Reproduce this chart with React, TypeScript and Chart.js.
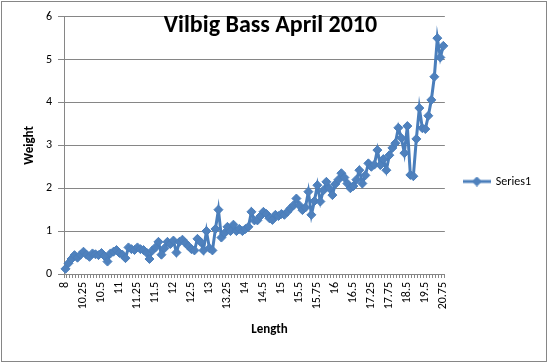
import React, { useEffect, useRef } from "react";
import { Chart, registerables } from "chart.js";

Chart.register(...registerables);

const TITLE = "Vilbig Bass April 2010";
const X_TITLE = "Length";
const Y_TITLE = "Weight";
const SERIES = "Series1";

// category labels (fish length, one per fish, sorted)
const lengths = [
  8, 8.75, 9.25, 9.75, 10, 10.25,
  10.25, 10.25, 10.25, 10.5, 10.5, 10.5,
  10.5, 10.75, 10.75, 10.75, 11, 11,
  11, 11, 11, 11.25, 11.25, 11.25,
  11.25, 11.25, 11.25, 11.5, 11.5, 11.5,
  11.5, 11.5, 11.75, 11.75, 11.75, 12,
  12, 12, 12.25, 12.25, 12.5, 12.5,
  12.5, 12.5, 12.75, 12.75, 12.75, 13,
  13, 13, 13, 13, 13.25, 13.25,
  13.25, 13.5, 13.5, 13.75, 13.75, 14,
  14, 14, 14.25, 14.25, 14.5, 14.5,
  14.5, 14.5, 14.75, 14.75, 15, 15,
  15, 15, 15.25, 15.25, 15.5, 15.5,
  15.5, 15.5, 15.5, 15.75, 15.75, 15.75,
  15.75, 15.75, 15.75, 16, 16, 16,
  16, 16.25, 16.25, 16.25, 16.5, 16.5,
  16.5, 16.75, 16.75, 17, 17, 17.25,
  17.25, 17.25, 17.5, 17.5, 17.5, 17.75,
  17.75, 18, 18, 18.25, 18.25, 18.5,
  18.5, 18.75, 19, 19, 19.25, 19.5,
  19.5, 19.75, 20, 20.25, 20.5, 20.75,
  20.75,
];

// weights
const weights = [
  0.12, 0.25, 0.35, 0.44, 0.38, 0.45,
  0.52, 0.45, 0.40, 0.48, 0.46, 0.44,
  0.49, 0.42, 0.29, 0.48, 0.52, 0.56,
  0.49, 0.45, 0.37, 0.62, 0.58, 0.56,
  0.62, 0.58, 0.56, 0.50, 0.35, 0.55,
  0.62, 0.75, 0.45, 0.60, 0.75, 0.70,
  0.78, 0.50, 0.75, 0.80, 0.72, 0.65,
  0.58, 0.55, 0.82, 0.75, 0.55, 1.00,
  0.60, 0.55, 1.05, 1.50, 0.85, 0.95,
  1.10, 1.00, 1.15, 1.00, 1.05, 1.00,
  1.05, 1.10, 1.45, 1.25, 1.25, 1.35,
  1.45, 1.40, 1.30, 1.26, 1.38, 1.35,
  1.40, 1.38, 1.45, 1.53, 1.60, 1.76,
  1.60, 1.49, 1.55, 1.92, 1.38, 1.70,
  2.07, 1.69, 1.95, 2.15, 2.00, 1.84,
  2.10, 2.20, 2.35, 2.25, 2.11, 2.00,
  2.05, 2.20, 2.42, 2.11, 2.30, 2.58,
  2.50, 2.55, 2.89, 2.54, 2.68, 2.42,
  2.77, 2.94, 3.05, 3.41, 3.17, 2.82,
  3.45, 2.31, 2.28, 3.15, 3.87, 3.40,
  3.38, 3.69, 4.06, 4.60, 5.50, 5.05,
  5.32,
];

const Y_MIN = 0;
const Y_MAX = 6;
const Y_STEP = 1;
const LABEL_EVERY = 6;

const FONT = "Carlito, Lato, 'Liberation Sans', sans-serif";
const LINE = "#4A7EBB";
const MARK = "#4F81BD";
const GRID = "#868686";
const X_TITLE_SHIFT = 15;

export default function App() {
  const ref = useRef<HTMLCanvasElement>(null);

  useEffect(() => {
    document.body.style.margin = "0";
    const img = document.createElement("canvas");
    img.width = 28;
    img.height = 10;
    const g = img.getContext("2d")!;
    g.strokeStyle = LINE;
    g.lineWidth = 3;
    g.beginPath();
    g.moveTo(0, 5);
    g.lineTo(28, 5);
    g.stroke();
    g.fillStyle = MARK;
    g.lineWidth = 1;
    g.beginPath();
    g.moveTo(14, 0.5);
    g.lineTo(18.5, 5);
    g.lineTo(14, 9.5);
    g.lineTo(9.5, 5);
    g.closePath();
    g.fill();
    g.stroke();

    const chart = new Chart(ref.current!, {
      type: "line",
      data: {
        labels: lengths.map(String),
        datasets: [
          {
            label: SERIES,
            data: weights,
            borderColor: LINE,
            borderWidth: 3,
            pointStyle: "rectRot",
            pointRadius: 4.5,
            pointBackgroundColor: MARK,
            pointBorderColor: LINE,
            pointBorderWidth: 1,
            tension: 0,
          },
        ],
      },
      options: {
        animation: false,
        responsive: false,
        layout: { padding: { left: 0, right: 7, top: 0, bottom: 0 } },
        plugins: {
          title: {
            display: true,
            text: TITLE,
            color: "#000",
            font: { family: FONT, size: 24, weight: "bold", lineHeight: 1.2 },
            padding: { top: 11.6, bottom: -23.7 },
          },
          legend: {
            position: "right",
            labels: {
              usePointStyle: true,
              pointStyleWidth: 26,
              padding: 19,
              color: "#000",
              font: { family: FONT, size: 12 },
              generateLabels: () => [
                {
                  text: SERIES,
                  pointStyle: img as any,
                  fillStyle: MARK,
                  strokeStyle: LINE,
                  lineWidth: 0,
                  hidden: false,
                  datasetIndex: 0,
                } as any,
              ],
            },
          },
          tooltip: { enabled: false },
        },
        scales: {
          x: {
            type: "category",
            offset: true,
            grid: {
              display: true,
              drawOnChartArea: false,
              drawTicks: true,
              tickLength: 4,
              offset: true,
              color: GRID,
            },
            border: { color: GRID, width: 1 },
            ticks: {
              autoSkip: false,
              minRotation: 90,
              maxRotation: 90,
              padding: 4,
              color: "#000",
              font: { family: FONT, size: 12 },
              callback: (_v: any, i: number) => (i % LABEL_EVERY === 0 ? String(lengths[i]) : ""),
            },
            title: {
              display: true,
              text: X_TITLE,
              color: "#000",
              font: { family: FONT, size: 13, weight: "bold", lineHeight: 1.2 },
              padding: { top: 0, bottom: 25 },
            },
            afterFit: (s: any) => {
              s.height = 89;
              if (!s.__shifted) {
                s.__shifted = true;
                const orig = s.drawTitle;
                s.drawTitle = function (this: any) {
                  const l = this.left;
                  const r = this.right;
                  this.left = l + X_TITLE_SHIFT;
                  this.right = r + X_TITLE_SHIFT;
                  orig.call(this);
                  this.left = l;
                  this.right = r;
                };
              }
            },
          },
          y: {
            min: Y_MIN,
            max: Y_MAX,
            ticks: { stepSize: Y_STEP, padding: 6, color: "#000", font: { family: FONT, size: 12 } },
            grid: { color: GRID, tickLength: 6 },
            border: { color: GRID, width: 1 },
            title: {
              display: true,
              text: Y_TITLE,
              color: "#000",
              font: { family: FONT, size: 13, weight: "bold", lineHeight: 1.2 },
              padding: { top: 22, bottom: 0 },
            },
            afterFit: (s: any) => {
              s.width = 64;
            },
          },
        },
      },
    });
    return () => chart.destroy();
  }, []);

  return (
    <div style={{ position: "relative", width: 548, height: 363, background: "#fff" }}>
      <canvas ref={ref} width={548} height={363} style={{ display: "block" }} />
      <div
        style={{
          position: "absolute",
          left: 1,
          top: 1,
          width: 544,
          height: 359,
          border: `1px solid ${GRID}`,
          pointerEvents: "none",
        }}
      />
    </div>
  );
}
